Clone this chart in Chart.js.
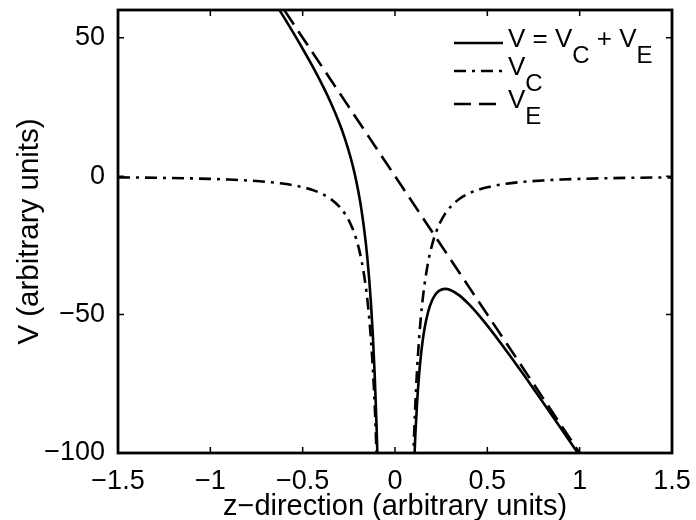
<!DOCTYPE html>
<html>
<head>
<meta charset="utf-8">
<title>Potential along z</title>
<script src="https://cdn.jsdelivr.net/npm/chart.js@4.4.1/dist/chart.umd.min.js"></script>
<style>
    html, body { margin: 0; padding: 0; background: #fff; }
    #wrap { width: 696px; height: 520px; }
</style>
</head>
<body>
<div id="wrap"><canvas id="potentialChart" width="696" height="520"></canvas></div>
<script>
// Sample positions along z and the potentials at each one
const zValues = [-1.5, -1.3, -1.1, -1.0, -0.9, -0.8, -0.7, -0.6, -0.5, -0.45, -0.4, -0.35, -0.3, -0.27,
    -0.24, -0.22, -0.2, -0.18, -0.16, -0.15, -0.14, -0.13, -0.12, -0.11, -0.1, -0.095, -0.09, 0,
    0.09, 0.095, 0.1, 0.11, 0.12, 0.13, 0.14, 0.15, 0.16, 0.18, 0.2, 0.22, 0.24, 0.27, 0.3, 0.35,
    0.4, 0.45, 0.5, 0.6, 0.7, 0.8, 0.9, 1.0, 1.1, 1.3, 1.5];

const vcValues = [-0.44, -0.59, -0.83, -1.0, -1.23, -1.56, -2.04, -2.78, -4.0, -4.94, -6.25, -8.16, -11.11, -13.72,
    -17.36, -20.66, -25.0, -30.86, -39.06, -44.44, -51.02, -59.17, -69.44, -82.64, -100.0, -110.8, -123.5, null,
    -123.5, -110.8, -100.0, -82.64, -69.44, -59.17, -51.02, -44.44, -39.06, -30.86, -25.0, -20.66, -17.36, -13.72, -11.11, -8.16,
    -6.25, -4.94, -4.0, -2.78, -2.04, -1.56, -1.23, -1.0, -0.83, -0.59, -0.44];

const veValues = [150, 130, 110, 100, 90, 80, 70, 60, 50, 45, 40, 35, 30, 27,
    24, 22, 20, 18, 16, 15, 14, 13, 12, 11, 10, 9.5, 9, 0,
    -9, -9.5, -10, -11, -12, -13, -14, -15, -16, -18, -20, -22, -24, -27, -30, -35,
    -40, -45, -50, -60, -70, -80, -90, -100, -110, -130, -150];

const vTotal = [149.56, 129.41, 109.17, 99.0, 88.77, 78.44, 67.96, 57.22, 46.0, 40.06, 33.75, 26.84, 18.89, 13.28,
    6.64, 1.34, -5.0, -12.86, -23.06, -29.44, -37.02, -46.17, -57.44, -71.64, -90.0, -101.3, -114.5, null,
    -132.5, -120.3, -110.0, -93.64, -81.44, -72.17, -65.02, -59.44, -55.06, -48.86, -45.0, -42.66, -41.36, -40.72, -41.11, -43.16,
    -46.25, -49.94, -54.0, -62.78, -72.04, -81.56, -91.23, -101.0, -110.83, -130.59, -150.44];

const xTicks = [-1.5, -1, -0.5, 0, 0.5, 1, 1.5];
const yTicks = [-100, -50, 0, 50];

const FONT = "'Liberation Sans', Arial, Helvetica, sans-serif";

function toPoints(values) {
    return zValues.map(function (z, i) {
        return { x: z, y: values[i] };
    });
}

// long minus sign in the tick labels
function fmt(v) {
    return String(v).replace('-', '\u2212');
}

// Box around the plot area with short inward ticks on every side
const framePlugin = {
    id: 'frame',
    afterDraw(chart) {
        const ctx = chart.ctx;
        const a = chart.chartArea;
        const xs = chart.scales.x;
        const ys = chart.scales.y;
        const len = 6;
        ctx.save();
        ctx.strokeStyle = '#000';
        ctx.lineWidth = 1.5;
        ctx.beginPath();
        xTicks.forEach(function (t) {
            const px = xs.getPixelForValue(t);
            ctx.moveTo(px, a.bottom); ctx.lineTo(px, a.bottom - len);
            ctx.moveTo(px, a.top); ctx.lineTo(px, a.top + len);
        });
        yTicks.forEach(function (t) {
            const py = ys.getPixelForValue(t);
            ctx.moveTo(a.left, py); ctx.lineTo(a.left + len, py);
            ctx.moveTo(a.right, py); ctx.lineTo(a.right - len, py);
        });
        ctx.stroke();
        ctx.lineWidth = 2.8;
        ctx.strokeRect(a.left, a.top, a.right - a.left, a.bottom - a.top);
        ctx.restore();
    }
};

// Legend with subscripted labels, drawn in the top right corner
const legendPlugin = {
    id: 'subLegend',
    afterDraw(chart) {
        const ctx = chart.ctx;
        const a = chart.chartArea;
        const rows = [
            { ds: 0, y: a.top + 33, parts: [['V = V', 0], ['C', 1], [' + V', 0], ['E', 1]] },
            { ds: 1, y: a.top + 61, parts: [['V', 0], ['C', 1]] },
            { ds: 2, y: a.top + 94, parts: [['V', 0], ['E', 1]] }
        ];
        const x0 = a.right - 218;
        const x1 = a.right - 169;
        ctx.save();
        rows.forEach(function (row) {
            const ds = chart.data.datasets[row.ds];
            ctx.strokeStyle = '#000';
            ctx.lineWidth = 2.6;
            ctx.setLineDash(ds.borderDash || []);
            ctx.beginPath();
            ctx.moveTo(x0, row.y);
            ctx.lineTo(x1, row.y);
            ctx.stroke();
            ctx.setLineDash([]);
            ctx.fillStyle = '#000';
            ctx.textBaseline = 'alphabetic';
            let x = x1 + 5;
            row.parts.forEach(function (p) {
                ctx.font = (p[1] ? '24px ' : '26px ') + FONT;
                ctx.fillText(p[0], x, row.y + (p[1] ? 20 : 4));
                x += ctx.measureText(p[0]).width;
            });
        });
        ctx.restore();
    }
};

const lineStyle = {
    showLine: true,
    pointRadius: 0,
    pointHoverRadius: 0,
    borderColor: '#000',
    borderWidth: 2.6,
    borderCapStyle: 'butt',
    cubicInterpolationMode: 'monotone',
    spanGaps: false,
    fill: false
};

function initChart() {
    const ctx = document.getElementById('potentialChart');
    new Chart(ctx, {
        type: 'scatter',
        data: {
            datasets: [
                Object.assign({ label: 'V = VC + VE', data: toPoints(vTotal) }, lineStyle),
                Object.assign({ label: 'VC', data: toPoints(vcValues), borderDash: [12, 6, 3, 6] }, lineStyle),
                Object.assign({ label: 'VE', data: toPoints(veValues), borderDash: [17, 8] }, lineStyle)
            ]
        },
        options: {
            responsive: false,
            animation: false,
            devicePixelRatio: 1,
            layout: { padding: { top: 10, right: 24, left: 0, bottom: 0 } },
            plugins: {
                legend: { display: false },
                tooltip: { enabled: false }
            },
            scales: {
                x: {
                    type: 'linear',
                    min: -1.5,
                    max: 1.5,
                    grid: { display: false },
                    border: { display: false },
                    afterBuildTicks: function (s) { s.ticks = xTicks.map(function (v) { return { value: v }; }); },
                    afterFit: function (s) {
                        s.height = 67;
                        s.paddingLeft = 0;
                        s.paddingRight = 0;
                    },
                    ticks: {
                        color: '#000',
                        font: { family: FONT, size: 27 },
                        padding: 4,
                        maxRotation: 0,
                        autoSkip: false,
                        callback: fmt
                    },
                    title: {
                        display: true,
                        text: 'z\u2212direction (arbitrary units)',
                        color: '#000',
                        font: { family: FONT, size: 29 },
                        padding: { top: 0, bottom: -4 }
                    }
                },
                y: {
                    type: 'linear',
                    min: -100,
                    max: 60,
                    grid: { display: false },
                    border: { display: false },
                    afterBuildTicks: function (s) { s.ticks = yTicks.map(function (v) { return { value: v }; }); },
                    afterFit: function (s) {
                        s.width = 118;
                        s.paddingTop = 0;
                        s.paddingBottom = 0;
                    },
                    ticks: {
                        color: '#000',
                        font: { family: FONT, size: 27 },
                        padding: 5,
                        autoSkip: false,
                        callback: fmt
                    },
                    title: {
                        display: true,
                        text: 'V (arbitrary units)',
                        color: '#000',
                        font: { family: FONT, size: 29.5 },
                        padding: { top: 12, bottom: 0 }
                    }
                }
            }
        },
        plugins: [framePlugin, legendPlugin]
    });
}

window.addEventListener('load', initChart);
</script>
</body>
</html>
